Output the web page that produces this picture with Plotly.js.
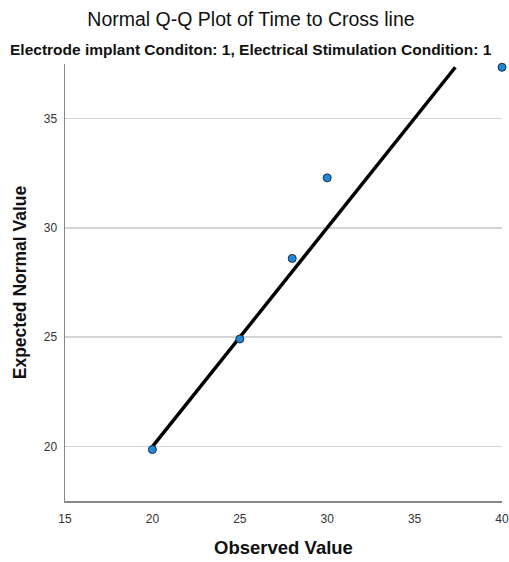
<!DOCTYPE html>
<html>
<head>
<meta charset="utf-8">
<script src="https://cdn.plot.ly/plotly-3.0.1.min.js"></script>
<style>html,body{margin:0;padding:0;background:#fff;}#chart{width:509px;height:562px;}</style>
</head>
<body>
<div id="chart"></div>
<script>
var observed = [20, 25, 28, 30, 40];
var expectedNormal = [19.87, 24.92, 28.6, 32.28, 37.33];
var refLineX = [20, 37.33];
var refLineY = [20, 37.33];
var xTicks = [15, 20, 25, 30, 35, 40];
var yTicks = [20, 25, 30, 35];

var traces = [
  {
    x: refLineX, y: refLineY, mode: 'lines', type: 'scatter',
    line: {color: '#000000', width: 3.5}, hoverinfo: 'skip', cliponaxis: false
  },
  {
    x: observed, y: expectedNormal, mode: 'markers', type: 'scatter',
    marker: {size: 8, color: '#1f88dc', line: {color: '#1a2a3a', width: 1}},
    cliponaxis: false
  }
];

var layout = {
  width: 509, height: 562,
  margin: {l: 65, r: 7, t: 64, b: 61},
  paper_bgcolor: '#ffffff', plot_bgcolor: '#ffffff',
  showlegend: false,
  font: {family: 'Liberation Sans, Arial, sans-serif', color: '#222'},
  title: {
    text: 'Normal Q-Q Plot of Time to Cross line',
    font: {size: 19.5, color: '#111', family: 'Liberation Sans, Arial, sans-serif'},
    x: 251/509, xref: 'container', xanchor: 'center',
    y: 1 - 19/562, yref: 'container', yanchor: 'middle'
  },
  annotations: [{
    text: '<b>Electrode implant Conditon: 1, Electrical Stimulation Condition: 1</b>',
    xref: 'paper', yref: 'paper', x: (251 - 65) / 437, y: 1 + (64 - 49) / 437,
    xanchor: 'center', yanchor: 'middle', showarrow: false,
    font: {size: 15.5, color: '#111'}
  }],
  xaxis: {
    range: [15, 40], tickvals: xTicks, ticktext: xTicks.map(String),
    showgrid: false, zeroline: false,
    showline: true, linecolor: '#888', linewidth: 1.5,
    ticks: 'outside', ticklen: 6, tickcolor: 'rgba(0,0,0,0)',
    tickfont: {size: 12, color: '#333'},
    title: {text: '<b>Observed Value</b>', font: {size: 18.5, color: '#111'}, standoff: 16}
  },
  yaxis: {
    range: [17.52, 37.48], tickvals: yTicks, ticktext: yTicks.map(String),
    showgrid: true, gridcolor: '#d4d4d4', gridwidth: 1.5, zeroline: false,
    showline: true, linecolor: '#888', linewidth: 1.5,
    ticks: 'outside', ticklen: 4, tickcolor: 'rgba(0,0,0,0)',
    tickfont: {size: 12, color: '#333'},
    title: {text: '<b>Expected Normal Value</b>', font: {size: 17.5, color: '#111'}, standoff: 12}
  }
};

Plotly.newPlot('chart', traces, layout, {displayModeBar: false, staticPlot: true});
</script>
</body>
</html>
